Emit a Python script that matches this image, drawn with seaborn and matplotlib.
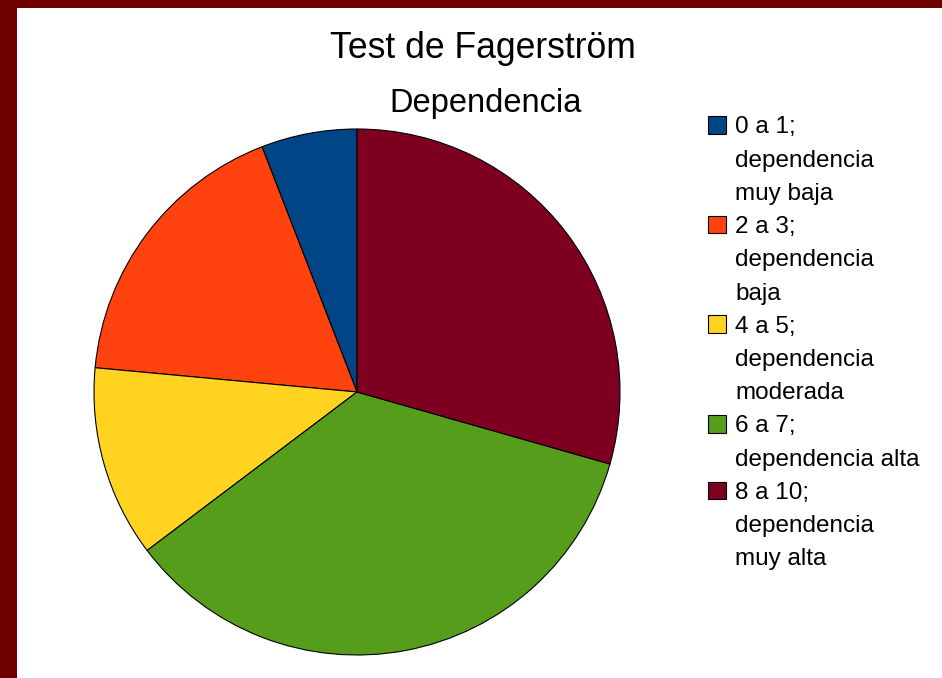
import matplotlib
matplotlib.use("Agg")
import matplotlib.pyplot as plt
import seaborn as sns
from matplotlib.patches import Patch, Rectangle

title = "Test de Fagerström"
subtitle = "Dependencia"
categories = [
    "0 a 1;\ndependencia\nmuy baja",
    "2 a 3;\ndependencia\nbaja",
    "4 a 5;\ndependencia\nmoderada",
    "6 a 7;\ndependencia alta",
    "8 a 10;\ndependencia\nmuy alta",
]
values = [1, 3, 2, 6, 5]
colors = ["#004586", "#ff420e", "#ffd320", "#579d1c", "#7e0021"]

sns.set_theme(style="white")
plt.rcParams['font.family'] = ['Liberation Sans', 'DejaVu Sans']

W, H = 942, 678
fig = plt.figure(figsize=(W / 100, H / 100), dpi=100, facecolor="#700000")
fig.patches.append(Rectangle((17 / W, 0), 1, 1 - 8 / H, transform=fig.transFigure,
                             facecolor="white", edgecolor="none", zorder=-10))

palette = sns.color_palette(colors)
ax = fig.add_axes([94 / W, 23 / H, 526 / W, 526 / H])
wedges, _ = ax.pie(values, colors=palette, startangle=90, counterclock=True,
                   wedgeprops=dict(edgecolor="black", linewidth=0.8))
for w in wedges:
    w.set_clip_on(False)
ax.set_xlim(-1, 1)
ax.set_ylim(-1, 1)
ax.set_aspect('equal')
ax.axis('off')

fig.text(483 / W, 1 - 58 / H, title, ha='center', va='baseline', fontsize=25.6, color='black')
fig.text(486 / W, 1 - 112 / H, subtitle, ha='center', va='baseline', fontsize=23.5, color='black')

handles, labels = [], []
for cat, col in zip(categories, palette):
    lines = cat.split("\n")
    for i, ln in enumerate(lines):
        if i == 0:
            handles.append(Patch(facecolor=col, edgecolor='black', linewidth=0.8))
        else:
            handles.append(Patch(facecolor='none', edgecolor='none'))
        labels.append(ln)

leg = fig.legend(handles, labels, loc='upper left', bbox_to_anchor=(708 / W, 1 - 116 / H),
                 frameon=False, fontsize=17.5, handlelength=0.74, handleheight=0.74,
                 handletextpad=0.37, labelspacing=0.45, borderpad=0, borderaxespad=0)
for t in leg.get_texts():
    t.set_color('black')

fig.savefig("out.png", dpi=100, facecolor=fig.get_facecolor())
